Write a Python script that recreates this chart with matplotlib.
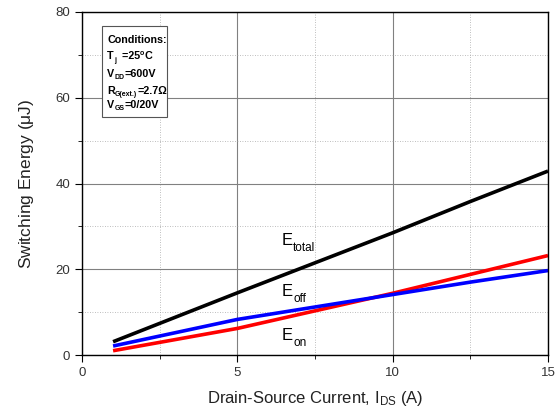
import matplotlib
matplotlib.use("Agg")
import matplotlib.pyplot as plt
from matplotlib.ticker import MultipleLocator
from matplotlib.transforms import offset_copy
from matplotlib.patches import Rectangle

plt.rcParams['font.family'] = ['Liberation Sans', 'DejaVu Sans']
plt.rcParams['mathtext.fontset'] = 'custom'
plt.rcParams['mathtext.rm'] = 'Liberation Sans'

# values
ids = [1, 5, 7.5, 10, 12.5, 15]
e_on = [1.0, 6.2, 10.3, 14.4, 18.8, 23.2]
e_off = [2.1, 8.3, 11.2, 14.1, 17.0, 19.7]
e_total = [3.1, 14.5, 21.5, 28.5, 35.8, 42.9]

fig = plt.figure(figsize=(5.59, 4.12), dpi=100)
ax = fig.add_axes([0.1467, 0.1383, 0.8336, 0.8326])
renderer = fig.canvas.get_renderer()


def rich(x, y, parts, trans, weight='normal'):
    """write text pieces one after another: (text, size, dy in px)"""
    dx = 0
    for txt, size, dy in parts:
        t = ax.text(x, y, txt, fontsize=size, fontweight=weight, va='baseline', ha='left',
                    transform=offset_copy(trans, fig=fig, x=dx, y=dy, units='dots'))
        dx += t.get_window_extent(renderer).width


ax.plot(ids, e_total, color='black', lw=2.6, solid_capstyle='butt')
ax.plot(ids, e_on, color='#ff0000', lw=2.6, solid_capstyle='butt')
ax.plot(ids, e_off, color='#0000ff', lw=2.6, solid_capstyle='butt')

ax.set_xlim(0, 15)
ax.set_ylim(0, 80)
ax.xaxis.set_major_locator(MultipleLocator(5))
ax.xaxis.set_minor_locator(MultipleLocator(2.5))
ax.yaxis.set_major_locator(MultipleLocator(20))
ax.yaxis.set_minor_locator(MultipleLocator(10))
ax.grid(which='major', color='#808080', lw=0.8)
ax.grid(which='minor', color='#a8a8a8', lw=0.6, ls=(0, (1, 2)))
ax.set_axisbelow(True)
ax.tick_params(which='both', direction='out', labelsize=9.5, labelcolor='#333333')
ax.tick_params(which='major', length=5)
ax.tick_params(which='minor', length=3)
for s in ax.spines.values():
    s.set_linewidth(1.0)

ax.set_xlabel(r'Drain-Source Current, I$\mathregular{_{DS}}$ (A)', fontsize=12, color='#222222',
              labelpad=7)
ax.set_ylabel(r'Switching Energy ($\mathregular{\mu}$J)', fontsize=12.5, color='#222222',
              labelpad=14)

# curve labels
rich(6.44, 25.7, [('E', 12, 0), ('total', 8.5, -6)], ax.transData)
rich(6.44, 13.8, [('E', 12, 0), ('off', 8.5, -6)], ax.transData)
rich(6.44, 3.5, [('E', 12, 0), ('on', 8.5, -6)], ax.transData)

# conditions box
ax.add_patch(Rectangle((0.043, 0.694), 0.14, 0.265, transform=ax.transAxes,
                       fc='white', ec='#555555', lw=0.8, zorder=3))
cond_lines = [
    (0.9096, [('Conditions:', 7.75, 0)]),
    (0.8630, [('T', 7.75, 0), ('j', 5, -3), ('  =25', 7.75, 0), ('o', 5, 3.5), ('C', 7.75, 0)]),
    (0.8105, [('V', 7.75, 0), ('DD', 5, -2), ('=600V', 7.75, 0)]),
    (0.7609, [('R', 7.75, 0), ('G(ext.)', 5, -2), ('=2.7\u03a9', 7.75, 0)]),
    (0.7201, [('V', 7.75, 0), ('GS', 5, -2), ('=0/20V', 7.75, 0)]),
]
for yy, parts in cond_lines:
    rich(0.054, yy, parts, ax.transAxes, weight='bold')
for t in ax.texts:
    t.set_zorder(4)

fig.savefig('out.png', dpi=100)
